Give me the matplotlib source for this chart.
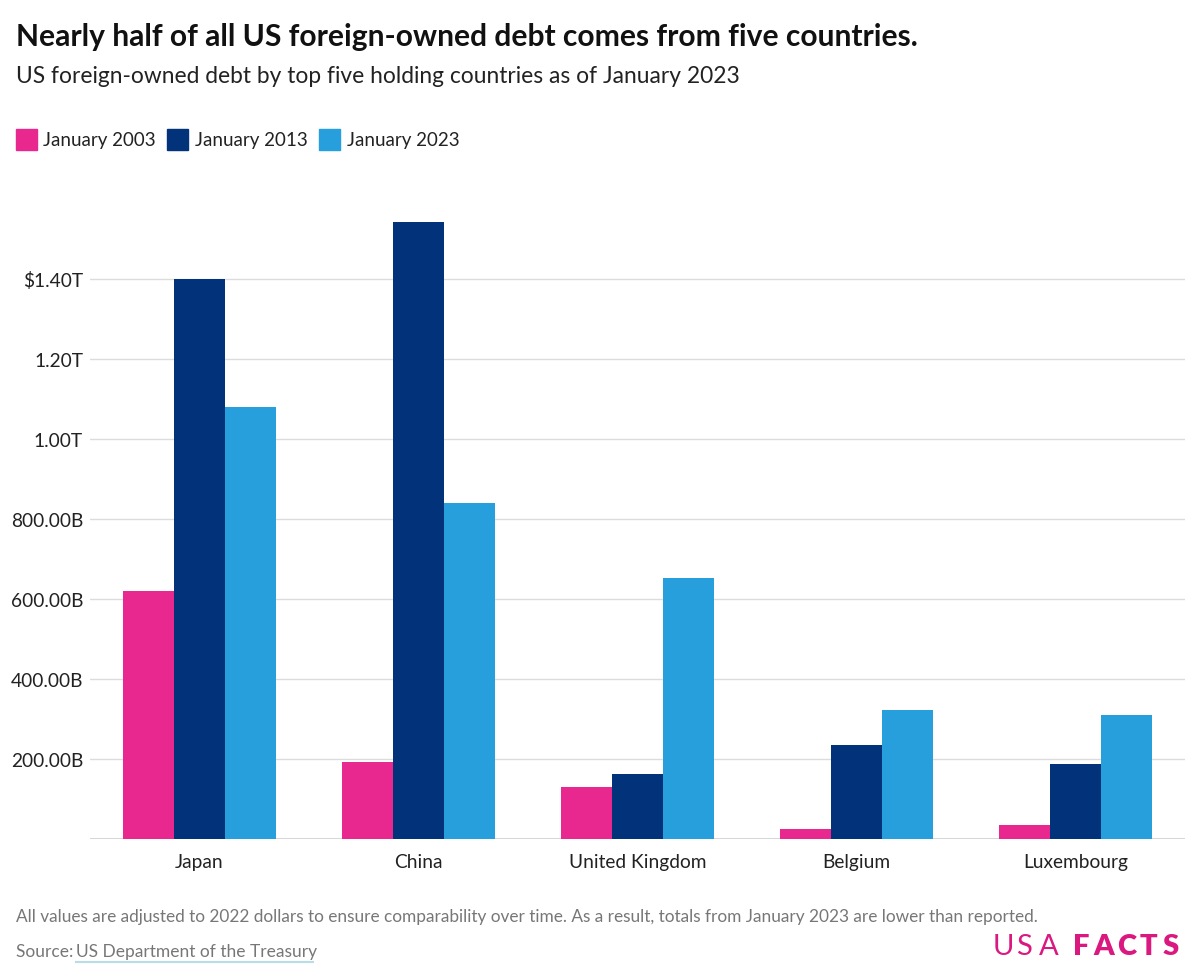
import numpy as np
import matplotlib.pyplot as plt
from matplotlib.ticker import FuncFormatter

plt.rcParams['font.family'] = ['Lato', 'DejaVu Sans']

# ── Data (trillions of 2022 dollars) ─────────────────────────────────────────
countries = ["Japan", "China", "United Kingdom", "Belgium", "Luxembourg"]
series_names = ["January 2003", "January 2013", "January 2023"]
jan_2003 = [0.620, 0.193, 0.130, 0.025, 0.035]
jan_2013 = [1.400, 1.543, 0.163, 0.235, 0.188]
jan_2023 = [1.080, 0.840, 0.653, 0.323, 0.310]
colors = ["#e8288f", "#02337a", "#269fdc"]
yticks = [0.2, 0.4, 0.6, 0.8, 1.0, 1.2, 1.4]


def fmt(v, _):
    if v >= 1.0:
        s = f"{v:.2f}T"
    else:
        s = f"{v * 1000:.2f}B"
    return "$" + s if abs(v - 1.4) < 1e-9 else s


fig = plt.figure(figsize=(12, 9.79), dpi=100)
ax = fig.add_axes([0.075, 0.142, 0.9125, 0.654])

x = np.arange(len(countries))
w = 0.233
for i, (vals, c) in enumerate(zip([jan_2003, jan_2013, jan_2023], colors)):
    ax.bar(x + (i - 1) * w, vals, width=w, color=c, zorder=3, linewidth=0)

ax.set_xlim(-0.5, len(countries) - 0.5)
ax.set_ylim(0, 1.6)
ax.set_yticks(yticks)
ax.yaxis.set_major_formatter(FuncFormatter(fmt))
ax.set_xticks(x)
ax.set_xticklabels(countries)
ax.grid(axis="y", color="#dcdcdc", linewidth=1, zorder=0)
ax.axhline(0, color="#d0d0d0", linewidth=1.2, zorder=2)
for s in ax.spines.values():
    s.set_visible(False)
ax.tick_params(axis="both", length=0, labelsize=13.8, colors="#222222")
ax.tick_params(axis="y", pad=5)
ax.tick_params(axis="x", pad=10)

# ── Header ───────────────────────────────────────────────────────────────────
fig.text(0.013, 0.962, "Nearly half of all US foreign-owned debt comes from five countries.",
         fontsize=21.6, fontweight="bold", color="#111111", va="center")
fig.text(0.013, 0.922, "US foreign-owned debt by top five holding countries as of January 2023",
         fontsize=16.4, color="#222222", va="center")

# legend
lx = 0.013
for name, c in zip(series_names, colors):
    fig.patches.append(plt.Rectangle((lx, 0.846), 0.0175, 0.0215, transform=fig.transFigure,
                                     color=c, figure=fig))
    fig.text(lx + 0.023, 0.8565, name, fontsize=13.5, color="#222222", va="center")
    lx += 0.1265

# ── Footer ───────────────────────────────────────────────────────────────────
fig.text(0.013, 0.063, "All values are adjusted to 2022 dollars to ensure comparability over time. "
         "As a result, totals from January 2023 are lower than reported.",
         fontsize=12.4, color="#777777", va="center")
fig.text(0.013, 0.028, "Source: ", fontsize=12.5, color="#777777", va="center")
fig.text(0.063, 0.028, "US Department of the Treasury", fontsize=12.5, color="#777777", va="center")
fig.lines.append(plt.Line2D([0.063, 0.261], [0.016, 0.016], transform=fig.transFigure,
                            color="#b9dde6", linewidth=1.5))

# logo, letter-spaced
logo_color = "#da187f"
for letter, px in zip("USA", [993, 1016, 1039]):
    fig.text(px / 1200, 0.0327, letter, fontsize=21, color=logo_color, va="center",
             fontweight="normal")
for letter, px in zip("FACTS", [1073, 1093, 1117, 1140, 1163]):
    fig.text(px / 1200, 0.0327, letter, fontsize=21, color=logo_color, va="center",
             fontweight="heavy")

fig.savefig("out.png", dpi=100, facecolor="white")
